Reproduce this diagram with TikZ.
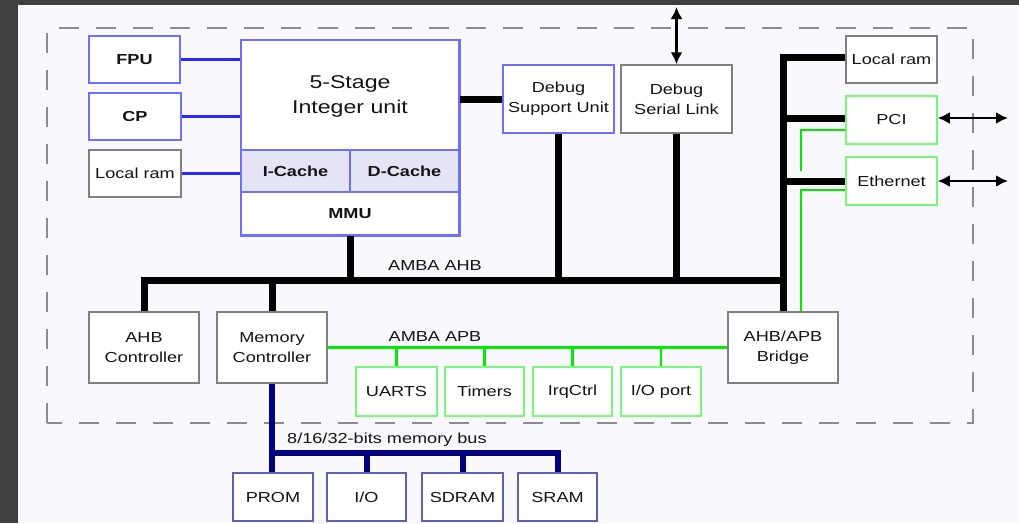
\documentclass[tikz,border=0pt]{standalone}
\usepackage{fontspec}
\setmainfont{Liberation Sans}[FakeStretch=1.25]
\usetikzlibrary{arrows.meta}
\definecolor{bgc}{RGB}{248,248,253}
\definecolor{darkc}{RGB}{64,64,64}
\definecolor{blueB}{RGB}{110,110,255}
\definecolor{blueL}{RGB}{40,40,255}
\definecolor{grayB}{RGB}{128,128,128}
\definecolor{greenB}{RGB}{120,250,120}
\definecolor{greenL}{RGB}{0,235,0}
\definecolor{navyc}{RGB}{0,0,128}
\definecolor{promB}{RGB}{95,95,185}
\definecolor{dashc}{RGB}{140,140,140}
\definecolor{txtc}{RGB}{20,20,20}
\definecolor{cachec}{RGB}{228,228,246}
\tikzset{
  box/.style={draw, line width=1.5pt, fill=white, inner sep=0pt, align=center,
    text=txtc, font=\fontsize{14.5}{20}\selectfont},
  bluebox/.style={box, draw=blueB},
  graybox/.style={box, draw=grayB},
  greenbox/.style={box, draw=greenB},
  membox/.style={box, draw=promB, line width=1.2pt},
  bluelink/.style={draw=blueL, line width=2.5pt},
  ahb/.style={draw=black, line width=7pt, line join=miter},
  apb/.style={draw=greenL, line width=2.5pt},
  mbus/.style={draw=navyc, line width=6pt, line join=miter},
  ext/.style={draw=black, line width=2.5pt, {Latex[length=12pt,width=12pt]}-{Latex[length=12pt,width=12pt]}},
  lbl/.style={text=txtc, inner sep=0pt, font=\fontsize{14.5}{20}\selectfont},
}
\begin{document}
\begin{tikzpicture}[x=1pt,y=-1pt]
\useasboundingbox (0,0) rectangle (1019,523);
\fill[darkc] (0,0) rectangle (1019,523);
\fill[bgc] (18,5) rectangle (1019,523);
% dashed chip border
\draw[dashc, line width=2pt, dash pattern=on 20pt off 17pt] (47,423) -- (47,28) -- (973,28) -- (973,423) -- cycle;

% left boxes
\node[bluebox, minimum width=91pt, minimum height=47pt, font=\fontsize{14.5}{20}\selectfont\bfseries] (fpu) at (134.5,59.5) {FPU};
\node[bluebox, minimum width=92pt, minimum height=47pt, font=\fontsize{14.5}{20}\selectfont\bfseries] (cp) at (135,116.5) {CP};
\node[graybox, minimum width=92pt, minimum height=47pt] (lram1) at (135,173.5) {Local ram};

% integer unit
\node[bluebox, minimum width=218pt, minimum height=195pt] (iu) at (350,137.5) {};
\node[draw=blueB, line width=1.2pt, fill=cachec, minimum width=109pt, minimum height=42pt, inner sep=0pt,
  text=txtc, font=\fontsize{14.5}{20}\selectfont\bfseries] (icache) at (295.5,171) {I-Cache};
\node[draw=blueB, line width=1.2pt, fill=cachec, minimum width=109pt, minimum height=42pt, inner sep=0pt,
  text=txtc, font=\fontsize{14.5}{20}\selectfont\bfseries] (dcache) at (404.5,171) {D-Cache};
\draw[blueB, line width=1.5pt] (iu.north west) rectangle (iu.south east);
\node[lbl, align=center, font=\fontsize{18.5}{25}\selectfont] (iutxt) at (350,96) {5-Stage\\Integer unit};
\node[lbl, font=\fontsize{14.5}{20}\selectfont\bfseries] (mmu) at (350,213.5) {MMU};

% debug
\node[bluebox, minimum width=111pt, minimum height=68pt] (dsu) at (558.5,99) {Debug\\Support Unit};
\node[graybox, minimum width=111pt, minimum height=68pt] (dsl) at (676.5,99) {Debug\\Serial Link};

% right peripherals
\node[graybox, minimum width=91pt, minimum height=47pt] (lram2) at (891.5,59.5) {Local ram};
\node[greenbox, minimum width=91pt, minimum height=48pt] (pci) at (891.5,120) {PCI};
\node[greenbox, minimum width=91pt, minimum height=48pt] (eth) at (891.5,181) {Ethernet};

% controllers
\node[graybox, minimum width=110pt, minimum height=71pt] (ahbc) at (144,347.5) {AHB\\Controller};
\node[graybox, minimum width=110pt, minimum height=71pt] (memc) at (272,347.5) {Memory\\Controller};
\node[graybox, minimum width=110pt, minimum height=71pt] (bridge) at (783,347.5) {AHB/APB\\Bridge};

% APB peripherals
\node[greenbox, minimum width=81pt, minimum height=49pt] (uarts) at (396.5,391.5) {UARTS};
\node[greenbox, minimum width=79pt, minimum height=49pt] (timers) at (484.5,391.5) {Timers};
\node[greenbox, minimum width=79pt, minimum height=49pt] (irq) at (572.5,391.5) {IrqCtrl};
\node[greenbox, minimum width=80pt, minimum height=49pt] (iop) at (661,391.5) {I/O port};

% memories
\node[membox, minimum width=80pt, minimum height=48pt] (prom) at (273,497) {PROM};
\node[membox, minimum width=79pt, minimum height=48pt] (io) at (366.5,497) {I/O};
\node[membox, minimum width=81pt, minimum height=48pt] (sdram) at (462.5,497) {SDRAM};
\node[membox, minimum width=79pt, minimum height=48pt] (sram) at (557.5,497) {SRAM};

% coordinates
\coordinate (busL) at (144,280);
\coordinate (busR) at (783,280);
\coordinate (apbY) at (0,347.5);
\coordinate (mbY) at (0,453);
\coordinate (dslTop) at (676.5,7);
\coordinate (pciOut) at (1008,118);
\coordinate (ethOut) at (1008,181);
\coordinate (pciG) at (801,171);

% blue links
\draw[bluelink] (fpu.east) -- (fpu.east -| iu.west);
\draw[bluelink] (cp.east) -- (cp.east -| iu.west);
\draw[bluelink] (lram1.east) -- (lram1.east -| iu.west);

% green AHB/APB side links
\draw[apb] ([yshift=-10pt]pci.west) -| (pciG);
\draw[apb] ([yshift=-9pt]eth.west) -| ([xshift=18pt]bridge.north);

% AHB bus
\draw[ahb] (ahbc.north) -- (busL) -- (busR);
\draw[ahb] (memc.north) -- (memc.north |- busL);
\draw[ahb] (iu.south) -- (iu.south |- busL);
\draw[ahb] (dsu.south) -- (dsu.south |- busL);
\draw[ahb] (dsl.south) -- (dsl.south |- busL);
\draw[ahb] ([yshift=2pt]lram2.west) -| (bridge.north);
\draw[ahb] ([yshift=2pt]pci.west) -- ([yshift=2pt]pci.west -| bridge.north);
\draw[bgc, line width=14pt] ([xshift=-30pt]eth.west) -- ([xshift=-40pt]eth.west);
\draw[ahb] (eth.west) -- (eth.west -| bridge.north);
\draw[ahb] (iu.east |- dsu.west) -- (dsu.west);
\node[lbl] (ahblbl) at (435,266) {AMBA AHB};

% APB bus
\draw[apb] (memc.east) -- (bridge.west);
\draw[apb] (uarts.north) -- (uarts.north |- apbY);
\draw[apb] (timers.north) -- (timers.north |- apbY);
\draw[apb] (irq.north) -- (irq.north |- apbY);
\draw[apb] (iop.north) -- (iop.north |- apbY);
\node[lbl] (apblbl) at (435,337) {AMBA APB};

% memory bus
\draw[mbus] (memc.south) -- (memc.south |- prom.north);
\draw[mbus] (memc.south |- mbY) -| (sram.north);
\draw[mbus] (io.north) -- (io.north |- mbY);
\draw[mbus] (sdram.north) -- (sdram.north |- mbY);
\node[lbl, anchor=west] (mblbl) at (287,440) {8/16/32-bits memory bus};

% external arrows
\draw[ext] (dslTop) -- (dsl.north);
\draw[ext] ([yshift=2pt]pci.east) -- (pciOut);
\draw[ext] (eth.east) -- (ethOut);
\end{tikzpicture}
\end{document}
